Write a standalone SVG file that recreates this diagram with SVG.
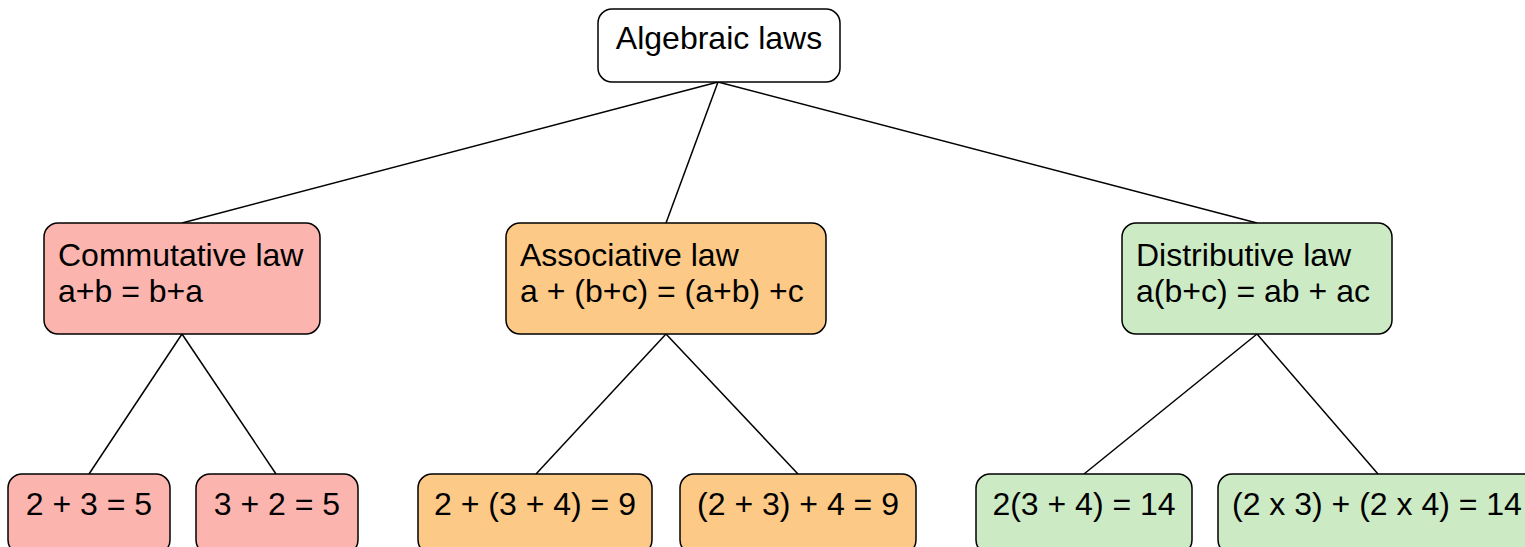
<svg xmlns="http://www.w3.org/2000/svg" width="1525" height="547" viewBox="0 0 1525 547">
<style>
.n{stroke:#000;stroke-width:1.5}
.root{fill:#fff}
.pink{fill:#fbb4ae}
.orange{fill:#fdc986}
.green{fill:#ccebc5}
text{font-family:"Liberation Sans",Arial,sans-serif;font-size:32px;fill:#000}
.c{text-anchor:middle}
.e line{stroke:#000;stroke-width:1.5}
</style>
<rect width="1525" height="547" fill="#fff"/>
<g class="e" id="connectors">
<line x1="718" y1="82" x2="182" y2="223"/>
<line x1="718" y1="82" x2="666" y2="223"/>
<line x1="718" y1="82" x2="1257" y2="223"/>
<line x1="182" y1="334" x2="89" y2="474"/>
<line x1="182" y1="334" x2="276" y2="474"/>
<line x1="666" y1="334" x2="536" y2="474"/>
<line x1="666" y1="334" x2="798" y2="474"/>
<line x1="1257" y1="334" x2="1084" y2="474"/>
<line x1="1257" y1="334" x2="1378" y2="474"/>
</g>
<g id="root"><rect class="n root" x="598" y="9" width="242" height="73" rx="14"/><text class="c" x="719" y="49">Algebraic laws</text></g>
<g id="commutative"><rect class="n pink" x="44" y="223" width="276" height="111" rx="14"/><text x="58" y="266">Commutative law</text><text x="58" y="302">a+b = b+a</text></g>
<g id="associative"><rect class="n orange" x="506" y="223" width="320" height="111" rx="14"/><text x="520" y="266">Associative law</text><text x="520" y="302">a + (b+c) = (a+b) +c</text></g>
<g id="distributive"><rect class="n green" x="1122" y="223" width="270" height="111" rx="14"/><text x="1136" y="266">Distributive law</text><text x="1136" y="302">a(b+c) = ab + ac</text></g>
<g id="leaf1"><rect class="n pink" x="8" y="474" width="162" height="80" rx="14"/><text class="c" x="89" y="515">2 + 3 = 5</text></g>
<g id="leaf2"><rect class="n pink" x="196" y="474" width="162" height="80" rx="14"/><text class="c" x="277" y="515">3 + 2 = 5</text></g>
<g id="leaf3"><rect class="n orange" x="418" y="474" width="234" height="80" rx="14"/><text class="c" x="535" y="515">2 + (3 + 4) = 9</text></g>
<g id="leaf4"><rect class="n orange" x="680" y="474" width="236" height="80" rx="14"/><text class="c" x="798" y="515">(2 + 3) + 4 = 9</text></g>
<g id="leaf5"><rect class="n green" x="976" y="474" width="216" height="80" rx="14"/><text class="c" x="1084" y="515">2(3 + 4) = 14</text></g>
<g id="leaf6"><rect class="n green" x="1218" y="474" width="320" height="80" rx="14"/><text x="1232" y="515">(2 x 3) + (2 x 4) = 14</text></g>
</svg>
